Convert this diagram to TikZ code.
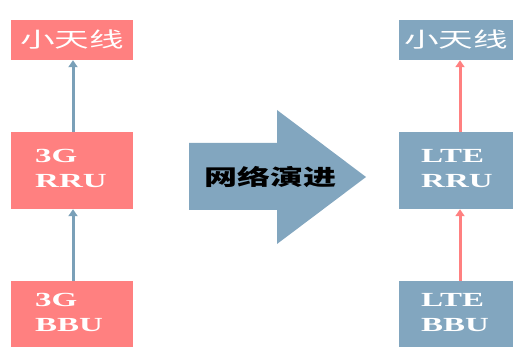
\documentclass[tikz,border=0pt]{standalone}
\usepackage{fontspec}
\usepackage{graphicx}
\setmainfont{Liberation Serif}
\newfontfamily\cjk{Noto Sans CJK SC}
\usetikzlibrary{arrows.meta}
\definecolor{pinkc}{HTML}{FF8080}
\definecolor{bluec}{HTML}{82A6BF}
\definecolor{bluea}{HTML}{7AA0B8}
\tikzset{
  box/.style={rectangle, inner sep=0pt, text=white, align=left},
  lat/.style={text=white, align=left, inner sep=0pt, anchor=north west, font=\fontsize{20}{25}\selectfont\bfseries},
  conn/.style={line width=3pt, -{Triangle[width=9pt,length=7pt]}},
}
\newcommand{\sx}[1]{\scalebox{1.65}[1]{#1}}
\begin{document}
\begin{tikzpicture}[x=1pt,y=-1pt]
\useasboundingbox (0,0) rectangle (516,347);
\clip (0,0) rectangle (516,347);
% left column
\node[box, fill=pinkc, minimum width=122pt, minimum height=40pt] (l1) at (72,40) {\fontsize{21}{21}\selectfont\cjk\sx{小天线}};
\node[box, fill=pinkc, minimum width=122pt, minimum height=77pt] (l2) at (72,170.5) {};
\node[lat] (l2t) at (35,149) {\sx{3G}\\\sx{RRU}};
\node[box, fill=pinkc, minimum width=122pt, minimum height=80pt] (l3) at (72,321) {};
\node[lat] (l3t) at (35,293) {\sx{3G}\\\sx{BBU}};
% right column
\node[box, fill=bluec, minimum width=114pt, minimum height=40pt] (r1) at (456,40) {\fontsize{21}{21}\selectfont\cjk\sx{小天线}};
\node[box, fill=bluec, minimum width=114pt, minimum height=77pt] (r2) at (456,170.5) {};
\node[lat] (r2t) at (421,149) {\sx{LTE}\\\sx{RRU}};
\node[box, fill=bluec, minimum width=114pt, minimum height=80pt] (r3) at (456,321) {};
\node[lat] (r3t) at (421,293) {\sx{LTE}\\\sx{BBU}};
% connectors
\draw[conn, draw=bluea] (l2.north -| 73,0) -- (l1.south -| 73,0);
\draw[conn, draw=bluea] (l3.north -| 73,0) -- (l2.south -| 73,0);
\draw[conn, draw=pinkc] (r2.north -| 460,0) -- (r1.south -| 460,0);
\draw[conn, draw=pinkc] (r3.north -| 460,0) -- (r2.south -| 460,0);
% block arrow
\fill[bluec] (189,143) -- (277,143) -- (277,110) -- (366,177) -- (277,244) -- (277,210) -- (189,210) -- cycle;
\node[inner sep=0pt] (evo) at (270,177) {\fontsize{22}{22}\selectfont\cjk\bfseries\scalebox{1.5}[1]{网络演进}};
\end{tikzpicture}
\end{document}
